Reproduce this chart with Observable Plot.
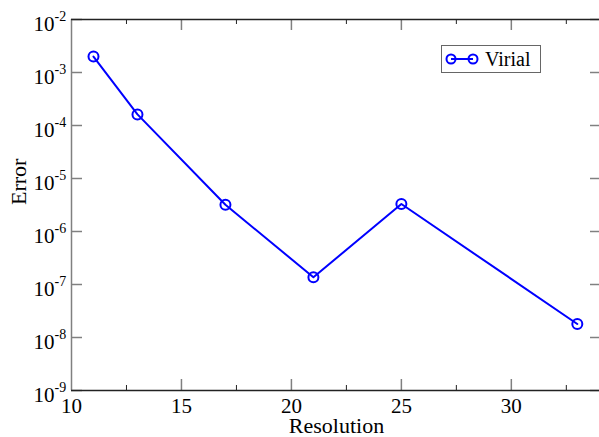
<!DOCTYPE html>
<html><head><meta charset="utf-8">
<script src="https://cdn.jsdelivr.net/npm/d3@7"></script>
<script src="https://cdn.jsdelivr.net/npm/@observablehq/plot@0.6"></script>
<style>
html,body{margin:0;padding:0;background:#fff;overflow:hidden}
#wrap{position:relative;width:599px;height:437px;overflow:hidden}
#legend{position:absolute;left:441px;top:45px;width:100px;height:28px;border:1.5px solid #666;box-sizing:border-box;background:#fff;font-family:"Liberation Serif",Tinos,"Times New Roman","DejaVu Serif",serif;font-size:20px;color:#000}
#legend svg{position:absolute;left:0;top:0}
#legend span{position:absolute;left:43px;top:0px;line-height:26px;font-family:"Liberation Serif",Tinos,"Times New Roman","DejaVu Serif",serif}
</style></head><body><div id="wrap"></div>
<script>
const resolution = [11, 13, 17, 21, 25, 33];
const virialError = [2.0e-3, 1.62e-4, 3.2e-6, 1.37e-7, 3.3e-6, 1.8e-8];
const seriesName = "Virial";
const xTicks = [10, 15, 20, 25, 30];
const xMajorTicks = [15, 20, 25, 30];
const xMinorTicks = [12.5, 17.5, 22.5, 27.5, 32.5];
const yTicks = [1e-2, 1e-3, 1e-4, 1e-5, 1e-6, 1e-7, 1e-8, 1e-9];
const yExponents = [-2, -3, -4, -5, -6, -7, -8, -9];
const xLabel = "Resolution";
const yLabel = "Error";

const data = resolution.map((r, i) => ({resolution: r, error: virialError[i]}));
const xDomain = [10, 34.1];
const yDomain = [1e-9, 1e-2];
const blue = "#0000ff";
const serif = "'Liberation Serif', Tinos, 'Times New Roman', 'DejaVu Serif', serif";

const chart = Plot.plot({
  width: 601, height: 437,
  marginLeft: 71, marginRight: 0, marginTop: 19, marginBottom: 47,
  x: {type: "linear", domain: xDomain, axis: null},
  y: {type: "log", domain: yDomain, axis: null},
  style: {fontFamily: serif, background: "white", maxWidth: "none", color: "#000"},
  marks: [
    Plot.tickY(yTicks, {y: d => d, stroke: "#808080", strokeWidth: 1.5, insetRight: 519}),
    Plot.tickY(yTicks, {y: d => d, stroke: "#808080", strokeWidth: 1.5, insetLeft: 519}),
    Plot.tickX(xMajorTicks, {x: d => d, stroke: "#808080", strokeWidth: 1.5, insetTop: 360}),
    Plot.tickX(xMajorTicks, {x: d => d, stroke: "#808080", strokeWidth: 1.5, insetBottom: 360}),
    Plot.tickX(xMinorTicks, {x: d => d, stroke: "#222", insetTop: 366}),
    Plot.tickX(xMinorTicks, {x: d => d, stroke: "#222", insetBottom: 366}),
    Plot.ruleX([xDomain[0]], {stroke: "#808080", strokeWidth: 1.5}),
    Plot.ruleX([xDomain[1]], {stroke: "#808080", strokeWidth: 1.5}),
    Plot.ruleY([yDomain[0]], {stroke: "#222", strokeWidth: 1.3}),
    Plot.ruleY([yDomain[1]], {stroke: "#222", strokeWidth: 1.3}),
    Plot.line(data, {x: "resolution", y: "error", stroke: blue, strokeWidth: 2}),
    Plot.dot(data, {x: "resolution", y: "error", r: 5, stroke: blue, strokeWidth: 2, fill: "none"}),
    Plot.text(yTicks, {y: d => d, text: () => "10", frameAnchor: "left", textAnchor: "end", lineAnchor: "bottom", dx: -17, dy: 11.5, fontSize: 21, fontFamily: serif, fill: "#000"}),
    Plot.text(yTicks, {y: d => d, text: (d, i) => String(yExponents[i]), frameAnchor: "left", textAnchor: "start", lineAnchor: "bottom", dx: -17, dy: 1.5, fontSize: 14, fontFamily: serif, fill: "#000"}),
    Plot.text(xTicks, {x: d => d, text: d => String(d), frameAnchor: "bottom", lineAnchor: "bottom", dy: 22, fontSize: 21, fontFamily: serif, fill: "#000"}),
    Plot.text([xLabel], {text: d => d, frameAnchor: "bottom", lineAnchor: "bottom", dy: 42.5, fontSize: 22, fontFamily: serif, fill: "#000"}),
    Plot.text([yLabel], {text: d => d, frameAnchor: "left", rotate: -90, lineAnchor: "bottom", dx: -46, fontSize: 22, fontFamily: serif, fill: "#000"})
  ]
});
const wrap = document.getElementById("wrap");
wrap.appendChild(chart);

const legend = document.createElement("div");
legend.id = "legend";
legend.innerHTML = `<svg width="40" height="26"><line x1="9" y1="13" x2="31" y2="13" stroke="${blue}" stroke-width="2"/><circle cx="9" cy="13" r="4.5" fill="none" stroke="${blue}" stroke-width="2"/><circle cx="31" cy="13" r="4.5" fill="none" stroke="${blue}" stroke-width="2"/></svg><span>${seriesName}</span>`;
wrap.appendChild(legend);
</script></body></html>
